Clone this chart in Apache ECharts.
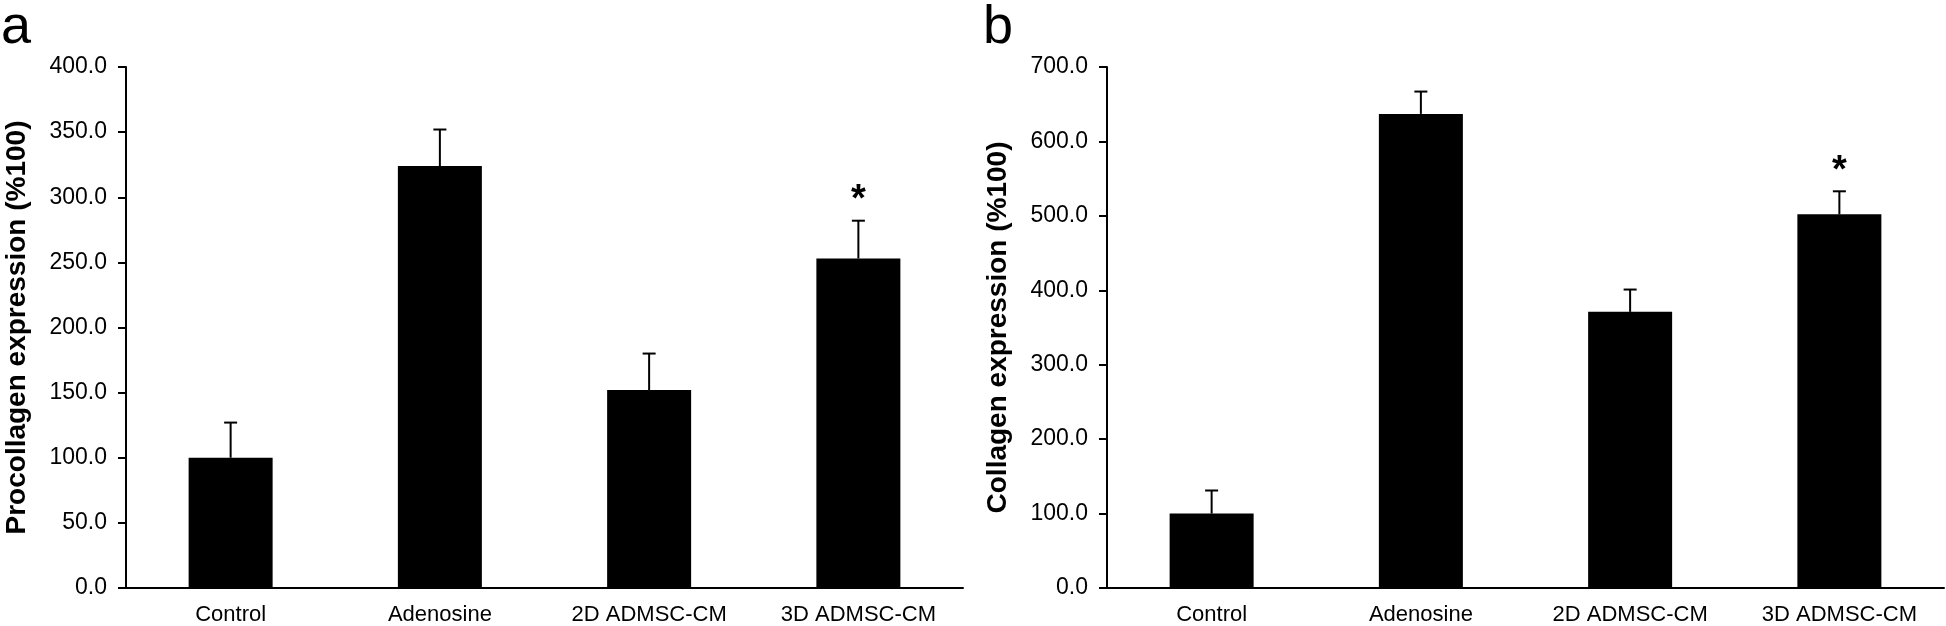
<!DOCTYPE html>
<html>
<head>
<meta charset="utf-8">
<script src="https://cdn.jsdelivr.net/npm/echarts@6/dist/echarts.min.js"></script>
<style>
html,body{margin:0;padding:0;background:#fff;}
#chart{width:1946px;height:626px;}
</style>
</head>
<body>
<div id="chart"></div>
<script>
const categories = ['Control', 'Adenosine', '2D ADMSC-CM', '3D ADMSC-CM'];
const procollagen = [100, 324, 152, 253];
const procollagenErr = [27, 28, 28, 29];
const procollagenSig = ['', '', '', '*'];
const collagen = [100, 637, 371, 502];
const collagenErr = [31, 30, 30, 31];
const collagenSig = ['', '', '', '*'];
const axisA = { max: 400, interval: 50 };
const axisB = { max: 700, interval: 100 };
const titleA = 'Procollagen expression (%100)';
const titleB = 'Collagen expression (%100)';
const panelLabels = ['a', 'b'];

const FONT = 'Liberation Sans, Arial, Helvetica, sans-serif';

function errRender(sig) {
  return function (params, api) {
    const i = api.value(0), v = api.value(1), e = api.value(2);
    const base = api.coord([i, v]);
    const top = api.coord([i, v + e]);
    const half = 6.5;
    const st = { stroke: '#000', lineWidth: 2 };
    const children = [
      { type: 'line', shape: { x1: base[0], y1: base[1], x2: top[0], y2: top[1] }, style: st },
      { type: 'line', shape: { x1: top[0] - half, y1: top[1], x2: top[0] + half, y2: top[1] }, style: st }
    ];
    if (sig[i]) {
      children.push({
        type: 'text',
        style: {
          text: sig[i], x: top[0], y: top[1] - 20,
          align: 'center', verticalAlign: 'middle',
          textAlign: 'center', textVerticalAlign: 'middle',
          fontSize: 38, fontWeight: 'bold', fontFamily: FONT, fill: '#000'
        }
      });
    }
    return { type: 'group', children };
  };
}

function xAxis(gi) {
  return {
    type: 'category', gridIndex: gi, data: categories,
    axisLine: { lineStyle: { color: '#000', width: 2 } },
    axisTick: { show: false },
    axisLabel: { color: '#000', fontSize: 22, fontFamily: FONT, margin: 16, interval: 0 }
  };
}
function yAxis(gi, ax, name) {
  return {
    type: 'value', gridIndex: gi, min: 0, max: ax.max, interval: ax.interval,
    name: name, nameLocation: 'middle', nameRotate: 90, nameGap: 95,
    nameTextStyle: { color: '#000', fontSize: 28, fontWeight: 'bold', fontFamily: FONT },
    axisLine: { show: true, lineStyle: { color: '#000', width: 2 } },
    axisTick: { show: true, length: 8, lineStyle: { color: '#000', width: 2 } },
    axisLabel: { color: '#000', fontSize: 23, fontFamily: FONT, margin: 19,
      formatter: v => v.toFixed(1) },
    splitLine: { show: false }
  };
}

const chart = echarts.init(document.getElementById('chart'), null, { renderer: 'canvas' });
chart.setOption({
  backgroundColor: '#fff',
  animation: false,
  title: [
    { text: panelLabels[0], left: -4, top: -4, textStyle: { fontSize: 54, fontWeight: 'normal', fontFamily: FONT, color: '#000' } },
    { text: panelLabels[1], left: 978, top: -4, textStyle: { fontSize: 54, fontWeight: 'normal', fontFamily: FONT, color: '#000' } }
  ],
  grid: [
    { left: 126, top: 67, width: 837, height: 522 },
    { left: 1107, top: 67, width: 837, height: 522 }
  ],
  xAxis: [xAxis(0), xAxis(1)],
  yAxis: [yAxis(0, axisA, titleA), yAxis(1, axisB, titleB)],
  series: [
    { type: 'bar', xAxisIndex: 0, yAxisIndex: 0, data: procollagen, barWidth: 84,
      itemStyle: { color: '#000' } },
    { type: 'custom', xAxisIndex: 0, yAxisIndex: 0, renderItem: errRender(procollagenSig),
      encode: { x: 0, y: 1 }, z: 5,
      data: categories.map((c, i) => [i, procollagen[i], procollagenErr[i]]) },
    { type: 'bar', xAxisIndex: 1, yAxisIndex: 1, data: collagen, barWidth: 84,
      itemStyle: { color: '#000' } },
    { type: 'custom', xAxisIndex: 1, yAxisIndex: 1, renderItem: errRender(collagenSig),
      encode: { x: 0, y: 1 }, z: 5,
      data: categories.map((c, i) => [i, collagen[i], collagenErr[i]]) }
  ]
});
</script>
</body>
</html>
